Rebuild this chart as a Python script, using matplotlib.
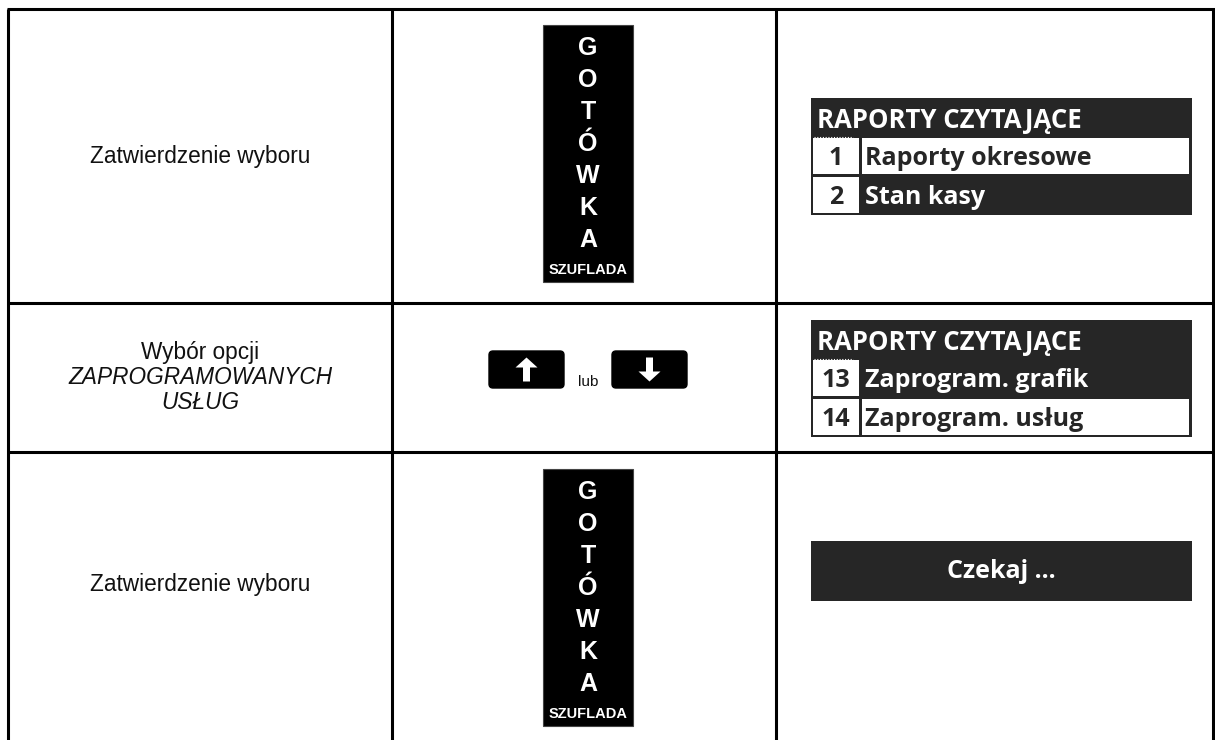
import matplotlib
matplotlib.use("Agg")
import matplotlib.pyplot as plt
from matplotlib.patches import Rectangle, FancyBboxPatch, Polygon

# ── Content ──────────────────────────────────────────────────
step_texts = [
    ["Zatwierdzenie wyboru"],
    ["Wybór opcji", "ZAPROGRAMOWANYCH", "USŁUG"],
    ["Zatwierdzenie wyboru"],
]
step_italic = [
    [False],
    [False, True, True],
    [False],
]
key_letters = ["G", "O", "T", "Ó", "W", "K", "A"]
key_caption = "SZUFLADA"
or_word = "lub"

menu_title = "RAPORTY CZYTAJĄCE"
menu1_nums = ["1", "2"]
menu1_items = ["Raporty okresowe", "Stan kasy"]
menu1_sel = 0
menu2_nums = ["13", "14"]
menu2_items = ["Zaprogram. grafik", "Zaprogram. usług"]
menu2_sel = 1
wait_text = "Czekaj ..."

# ── Layout (pixels) ──────────────────────────────────────────
W, H = 1215, 740
col_x = [8, 392, 776, 1213]
row_y = [9, 303, 452, 740]
DARK = "#262626"
disp_font = ["Open Sans", "DejaVu Sans"]

fig = plt.figure(figsize=(W / 100, H / 100), dpi=100)
ax = fig.add_axes([0, 0, 1, 1])
ax.set_xlim(0, W)
ax.set_ylim(H, 0)
ax.axis("off")

lw = 2.2
for x in col_x:
    ax.plot([x, x], [row_y[0], H], color="black", lw=lw, solid_capstyle="butt")
for y in row_y[:-1]:
    ax.plot([col_x[0] - 1.5, col_x[-1] + 1.5], [y, y], color="black", lw=lw,
            solid_capstyle="butt")

# ── Left column texts ────────────────────────────────────────
cx1 = (col_x[0] + col_x[1]) / 2
for r, (lines, ital) in enumerate(zip(step_texts, step_italic)):
    mid = (row_y[r] + row_y[r + 1]) / 2 if r < 2 else 584
    n = len(lines)
    for i, (t, it) in enumerate(zip(lines, ital)):
        y = mid + (i - (n - 1) / 2) * 25
        ax.text(cx1, y, t, ha="center", va="center", fontsize=16.3,
                family="Liberation Sans", style="italic" if it else "normal",
                color="#111111")


# ── Cash drawer key ──────────────────────────────────────────
def cash_key(top):
    x0, x1 = 543, 633
    ax.add_patch(Rectangle((x0, top), x1 - x0, 257, facecolor="black",
                           edgecolor="#444444", lw=0.8))
    cx = (x0 + x1) / 2
    for i, ch in enumerate(key_letters):
        ax.text(cx, top + 30 + i * 32, ch, ha="center", va="baseline",
                fontsize=18, fontweight="bold", family="Liberation Sans",
                color="white")
    ax.text(cx, top + 249, key_caption, ha="center", va="baseline",
            fontsize=10.5, fontweight="bold",
            family=["Liberation Sans Narrow", "Liberation Sans"], color="white")


cash_key(25)
cash_key(469)


# ── Arrow keys ───────────────────────────────────────────────
def arrow_key(x0, x1, y0, y1, up):
    ax.add_patch(FancyBboxPatch((x0, y0), x1 - x0, y1 - y0,
                                boxstyle="round,pad=0,rounding_size=4",
                                facecolor="black", edgecolor="black"))
    cx, cy = (x0 + x1) / 2, (y0 + y1) / 2
    s = -1 if up else 1
    hh, hw, sw, L = 10, 11, 3.5, 12
    tip = cy + s * L
    base = tip - s * hh
    tail = cy - s * L
    pts = [(cx, tip), (cx - hw, base), (cx - sw, base), (cx - sw, tail),
           (cx + sw, tail), (cx + sw, base), (cx + hw, base)]
    ax.add_patch(Polygon(pts, closed=True, facecolor="white", edgecolor="none"))


arrow_key(489, 564, 351, 388, True)
arrow_key(612, 687, 351, 388, False)
ax.text(588, 386, or_word, ha="center", va="baseline", fontsize=11,
        family="Liberation Sans", color="#111111")


# ── Display screens ──────────────────────────────────────────
def menu_screen(top, nums, items, sel):
    x0, x1 = 811, 1192
    ax.add_patch(Rectangle((x0, top), x1 - x0, 117, facecolor=DARK, edgecolor="none"))
    ax.text(817, top + 30, menu_title, ha="left", va="baseline", fontsize=18.5,
            fontweight="bold", family=disp_font, color="white")
    ax.plot([814, 853], [top + 39, top + 39], color="white", lw=0.8, ls=(0, (1, 1.5)))
    for i, (n, t) in enumerate(zip(nums, items)):
        ry = top + 40 + i * 39
        ax.add_patch(Rectangle((813, ry), 46, 36, facecolor="white", edgecolor="none"))
        fg = "white"
        if i == sel:
            ax.add_patch(Rectangle((862, ry), 327, 36, facecolor="white",
                                   edgecolor="none"))
            fg = DARK
        ax.text(836, ry + 27, n, ha="center", va="baseline", fontsize=18,
                fontweight="bold", family=disp_font, color=DARK)
        ax.text(865, ry + 27, t, ha="left", va="baseline", fontsize=18,
                fontweight="bold", family=disp_font, color=fg)


menu_screen(98, menu1_nums, menu1_items, menu1_sel)
menu_screen(320, menu2_nums, menu2_items, menu2_sel)

ax.add_patch(Rectangle((811, 541), 381, 60, facecolor=DARK, edgecolor="none"))
ax.text(1001, 578, wait_text, ha="center", va="baseline", fontsize=18,
        fontweight="bold", family=disp_font, color="white")

fig.savefig("out.png", dpi=100)
plt.close(fig)
